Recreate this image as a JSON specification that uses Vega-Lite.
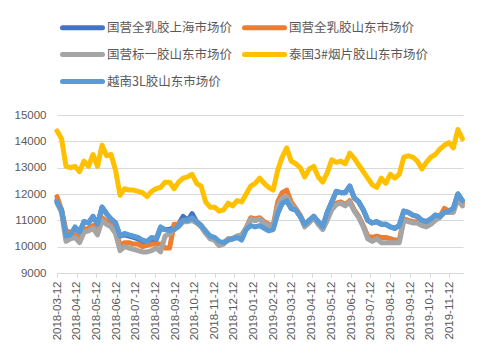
{
  "$schema": "https://vega.github.io/schema/vega-lite/v6.json",
  "width": 406,
  "height": 158,
  "autosize": "none",
  "padding": {"left": 57, "top": 115, "right": 22, "bottom": 81},
  "background": "white",
  "config": {"view": {"stroke": null}, "font": "Liberation Sans"},
  "data": {"values": [
    {"d":"2018-03-12","b":11750,"o":11900,"g":11650,"t":14400,"v":11700},
    {"d":"2018-03-19","b":11400,"o":11400,"g":11300,"t":14100,"v":11400},
    {"d":"2018-03-26","b":10450,"o":10600,"g":10200,"t":13050,"v":10400},
    {"d":"2018-04-02","b":10450,"o":10550,"g":10300,"t":13000,"v":10450},
    {"d":"2018-04-09","b":10700,"o":10450,"g":10350,"t":13050,"v":10750},
    {"d":"2018-04-16","b":10550,"o":10300,"g":10150,"t":12850,"v":10550},
    {"d":"2018-04-23","b":10950,"o":10650,"g":10550,"t":13250,"v":10950},
    {"d":"2018-04-30","b":10900,"o":10700,"g":10600,"t":13050,"v":10900},
    {"d":"2018-05-07","b":11150,"o":10800,"g":10700,"t":13500,"v":11150},
    {"d":"2018-05-14","b":10850,"o":10550,"g":10450,"t":13050,"v":10850},
    {"d":"2018-05-21","b":11500,"o":11100,"g":11000,"t":13850,"v":11500},
    {"d":"2018-05-28","b":11250,"o":10950,"g":10850,"t":13450,"v":11250},
    {"d":"2018-06-04","b":11050,"o":10850,"g":10750,"t":13500,"v":11050},
    {"d":"2018-06-11","b":10900,"o":10600,"g":10500,"t":12900,"v":10900},
    {"d":"2018-06-18","b":10400,"o":10050,"g":9850,"t":11950,"v":10400},
    {"d":"2018-06-25","b":10450,"o":10150,"g":10000,"t":12200,"v":10500},
    {"d":"2018-07-02","b":10400,"o":10150,"g":9950,"t":12150,"v":10450},
    {"d":"2018-07-09","b":10350,"o":10100,"g":9900,"t":12150,"v":10400},
    {"d":"2018-07-16","b":10300,"o":10100,"g":9850,"t":12100,"v":10350},
    {"d":"2018-07-23","b":10200,"o":10000,"g":9800,"t":12050,"v":10250},
    {"d":"2018-07-30","b":10150,"o":10050,"g":9800,"t":11900,"v":10200},
    {"d":"2018-08-06","b":10300,"o":10100,"g":9850,"t":12100,"v":10350},
    {"d":"2018-08-13","b":10250,"o":10100,"g":9950,"t":12200,"v":10300},
    {"d":"2018-08-20","b":10700,"o":10100,"g":9800,"t":12250,"v":10750},
    {"d":"2018-08-27","b":10650,"o":9950,"g":10400,"t":12450,"v":10650},
    {"d":"2018-09-03","b":10650,"o":9950,"g":10500,"t":12450,"v":10600},
    {"d":"2018-09-10","b":10750,"o":10850,"g":10650,"t":12200,"v":10650},
    {"d":"2018-09-17","b":10850,"o":10850,"g":10750,"t":12450,"v":10800},
    {"d":"2018-09-24","b":11150,"o":11000,"g":10950,"t":12600,"v":11000},
    {"d":"2018-10-01","b":11000,"o":11000,"g":10950,"t":12650,"v":11000},
    {"d":"2018-10-08","b":11250,"o":11050,"g":11000,"t":12750,"v":11100},
    {"d":"2018-10-15","b":10950,"o":10950,"g":10900,"t":12400,"v":10950},
    {"d":"2018-10-22","b":10800,"o":10800,"g":10750,"t":12300,"v":10800},
    {"d":"2018-10-29","b":10550,"o":10550,"g":10500,"t":11700,"v":10600},
    {"d":"2018-11-05","b":10400,"o":10350,"g":10300,"t":11500,"v":10400},
    {"d":"2018-11-12","b":10300,"o":10250,"g":10250,"t":11500,"v":10350},
    {"d":"2018-11-19","b":10150,"o":10050,"g":10050,"t":11350,"v":10200},
    {"d":"2018-11-26","b":10150,"o":10150,"g":10100,"t":11400,"v":10150},
    {"d":"2018-12-03","b":10250,"o":10300,"g":10300,"t":11650,"v":10250},
    {"d":"2018-12-10","b":10300,"o":10300,"g":10300,"t":11550,"v":10300},
    {"d":"2018-12-17","b":10350,"o":10400,"g":10400,"t":11750,"v":10350},
    {"d":"2018-12-24","b":10300,"o":10450,"g":10450,"t":11700,"v":10250},
    {"d":"2018-12-31","b":10700,"o":10700,"g":10700,"t":12000,"v":10650},
    {"d":"2019-01-07","b":11050,"o":11100,"g":11050,"t":12300,"v":10800},
    {"d":"2019-01-14","b":11000,"o":11050,"g":11000,"t":12400,"v":10750},
    {"d":"2019-01-21","b":11050,"o":11100,"g":11050,"t":12600,"v":10800},
    {"d":"2019-01-28","b":10900,"o":10950,"g":10900,"t":12400,"v":10700},
    {"d":"2019-02-04","b":10800,"o":10850,"g":10800,"t":12250,"v":10600},
    {"d":"2019-02-11","b":10750,"o":10800,"g":10750,"t":12150,"v":10650},
    {"d":"2019-02-18","b":11300,"o":11700,"g":11550,"t":12900,"v":11250},
    {"d":"2019-02-25","b":11650,"o":12050,"g":11850,"t":13400,"v":11650},
    {"d":"2019-03-04","b":11750,"o":12150,"g":11900,"t":13750,"v":11750},
    {"d":"2019-03-11","b":11450,"o":11700,"g":11600,"t":13250,"v":11450},
    {"d":"2019-03-18","b":11400,"o":11450,"g":11400,"t":13150,"v":11400},
    {"d":"2019-03-25","b":11150,"o":11200,"g":11150,"t":13000,"v":11150},
    {"d":"2019-04-01","b":10850,"o":10800,"g":10750,"t":12650,"v":10850},
    {"d":"2019-04-08","b":11000,"o":10950,"g":10900,"t":12950,"v":11000},
    {"d":"2019-04-15","b":11150,"o":11150,"g":11100,"t":13050,"v":11150},
    {"d":"2019-04-22","b":10950,"o":10900,"g":10850,"t":12650,"v":10950},
    {"d":"2019-04-29","b":10750,"o":10700,"g":10650,"t":12450,"v":10750},
    {"d":"2019-05-06","b":11300,"o":11050,"g":11000,"t":12800,"v":11300},
    {"d":"2019-05-13","b":11700,"o":11450,"g":11400,"t":13300,"v":11700},
    {"d":"2019-05-20","b":12100,"o":11650,"g":11600,"t":13200,"v":12100},
    {"d":"2019-05-27","b":12050,"o":11700,"g":11650,"t":13250,"v":12050},
    {"d":"2019-06-03","b":12050,"o":11600,"g":11550,"t":13150,"v":12050},
    {"d":"2019-06-10","b":12300,"o":11750,"g":11700,"t":13550,"v":12300},
    {"d":"2019-06-17","b":11850,"o":11400,"g":11350,"t":13350,"v":11850},
    {"d":"2019-06-24","b":11700,"o":11150,"g":11100,"t":13100,"v":11700},
    {"d":"2019-07-01","b":11400,"o":10800,"g":10750,"t":12850,"v":11400},
    {"d":"2019-07-08","b":11000,"o":10400,"g":10300,"t":12600,"v":11000},
    {"d":"2019-07-15","b":10900,"o":10350,"g":10200,"t":12350,"v":10900},
    {"d":"2019-07-22","b":10950,"o":10400,"g":10300,"t":12250,"v":10950},
    {"d":"2019-07-29","b":10850,"o":10350,"g":10150,"t":12600,"v":10850},
    {"d":"2019-08-05","b":10850,"o":10350,"g":10150,"t":12400,"v":10850},
    {"d":"2019-08-12","b":10750,"o":10300,"g":10150,"t":12750,"v":10750},
    {"d":"2019-08-19","b":10700,"o":10250,"g":10150,"t":12600,"v":10700},
    {"d":"2019-08-26","b":10800,"o":10250,"g":10150,"t":12750,"v":10800},
    {"d":"2019-09-02","b":11350,"o":11050,"g":11000,"t":13400,"v":11350},
    {"d":"2019-09-09","b":11300,"o":11000,"g":10950,"t":13450,"v":11300},
    {"d":"2019-09-16","b":11200,"o":10950,"g":10900,"t":13400,"v":11200},
    {"d":"2019-09-23","b":11150,"o":10950,"g":10900,"t":13250,"v":11150},
    {"d":"2019-09-30","b":11000,"o":10850,"g":10800,"t":12950,"v":11000},
    {"d":"2019-10-07","b":10950,"o":10800,"g":10750,"t":13200,"v":10950},
    {"d":"2019-10-14","b":11050,"o":10900,"g":10850,"t":13400,"v":11050},
    {"d":"2019-10-21","b":11200,"o":11050,"g":11000,"t":13500,"v":11200},
    {"d":"2019-10-28","b":11150,"o":11150,"g":11100,"t":13700,"v":11150},
    {"d":"2019-11-04","b":11300,"o":11450,"g":11300,"t":13850,"v":11300},
    {"d":"2019-11-11","b":11350,"o":11350,"g":11300,"t":13950,"v":11350},
    {"d":"2019-11-18","b":11450,"o":11350,"g":11300,"t":13750,"v":11450},
    {"d":"2019-11-25","b":12000,"o":11900,"g":11800,"t":14450,"v":12000},
    {"d":"2019-12-02","b":11750,"o":11650,"g":11550,"t":14100,"v":11750}
  ]},
  "transform": [
    {"fold": ["b", "o", "g", "t", "v"], "as": ["series", "price"]}
  ],
  "mark": {"type": "line", "strokeWidth": 5, "strokeJoin": "round", "strokeCap": "round"},
  "encoding": {
    "x": {
      "field": "d", "type": "temporal",
      "scale": {"type": "utc", "domain": [{"year": 2018, "month": 3, "date": 12, "utc": true}, {"year": 2019, "month": 12, "date": 3, "utc": true}]},
      "axis": {
        "title": null,
        "values": [
          {"year": 2018, "month": 3, "date": 12, "utc": true},
          {"year": 2018, "month": 4, "date": 12, "utc": true},
          {"year": 2018, "month": 5, "date": 12, "utc": true},
          {"year": 2018, "month": 6, "date": 12, "utc": true},
          {"year": 2018, "month": 7, "date": 12, "utc": true},
          {"year": 2018, "month": 8, "date": 12, "utc": true},
          {"year": 2018, "month": 9, "date": 12, "utc": true},
          {"year": 2018, "month": 10, "date": 12, "utc": true},
          {"year": 2018, "month": 11, "date": 12, "utc": true},
          {"year": 2018, "month": 12, "date": 12, "utc": true},
          {"year": 2019, "month": 1, "date": 12, "utc": true},
          {"year": 2019, "month": 2, "date": 12, "utc": true},
          {"year": 2019, "month": 3, "date": 12, "utc": true},
          {"year": 2019, "month": 4, "date": 12, "utc": true},
          {"year": 2019, "month": 5, "date": 12, "utc": true},
          {"year": 2019, "month": 6, "date": 12, "utc": true},
          {"year": 2019, "month": 7, "date": 12, "utc": true},
          {"year": 2019, "month": 8, "date": 12, "utc": true},
          {"year": 2019, "month": 9, "date": 12, "utc": true},
          {"year": 2019, "month": 10, "date": 12, "utc": true},
          {"year": 2019, "month": 11, "date": 12, "utc": true}
        ],
        "labelExpr": "utcFormat(datum.value, '%Y-%m-%d')",
        "labelAngle": -90,
        "labelAlign": "right",
        "labelBaseline": "middle",
        "labelFontSize": 11.5,
        "labelColor": "#595959",
        "labelPadding": 4,
        "labelOverlap": false,
        "labelFlush": false,
        "tickSize": 4,
        "tickColor": "#D9D9D9",
        "domainColor": "#D9D9D9",
        "grid": false
      }
    },
    "y": {
      "field": "price", "type": "quantitative",
      "scale": {"domain": [9000, 15000], "nice": false, "zero": false},
      "axis": {
        "title": null,
        "values": [9000, 10000, 11000, 12000, 13000, 14000, 15000],
        "format": "d",
        "domain": false,
        "ticks": false,
        "labelPadding": 11,
        "labelFontSize": 11.5,
        "labelColor": "#595959",
        "gridColor": "#D9D9D9",
        "gridWidth": 1
      }
    },
    "color": {
      "field": "series", "type": "nominal",
      "scale": {"domain": ["b", "o", "g", "t", "v"], "range": ["#4472C4", "#ED7D31", "#A5A5A5", "#FFC000", "#5B9BD5"]},
      "legend": {
        "title": null,
        "values": ["b", "g", "v", "o", "t"],
        "orient": "none",
        "legendX": 3,
        "legendY": -100,
        "columns": 2,
        "columnPadding": 1,
        "rowPadding": 4,
        "padding": 0,
        "symbolType": "M-1,0H3",
        "symbolSize": 400,
        "symbolStrokeWidth": 5,
        "labelOffset": 22,
        "labelFont": "Noto Sans CJK SC",
        "labelFontSize": 12.5,
        "labelColor": "#595959",
        "labelLimit": 300,
        "encode": {"symbols": {"update": {"strokeCap": {"value": "round"}}}},
        "labelExpr": "datum.label == 'b' ? '国营全乳胶上海市场价' : datum.label == 'o' ? '国营全乳胶山东市场价' : datum.label == 'g' ? '国营标一胶山东市场价' : datum.label == 't' ? '泰国3#烟片胶山东市场价' : '越南3L胶山东市场价'"
      }
    }
  }
}
